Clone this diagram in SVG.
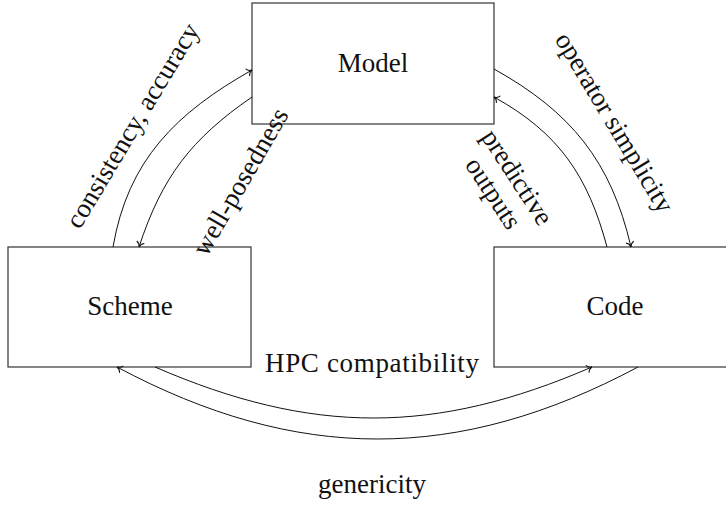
<svg xmlns="http://www.w3.org/2000/svg" width="726" height="505" viewBox="0 0 726 505">
<defs>
<style>
.box{fill:#fff;stroke:#333;stroke-width:1.2}
.t{font-family:"Liberation Serif","Times New Roman",serif;font-size:27px;fill:#111;text-anchor:middle}
.c{fill:none;stroke:#111;stroke-width:1}
</style>
<marker id="ah" viewBox="-6 -5 8 10" markerWidth="8" markerHeight="10" refX="0" refY="0" orient="auto" markerUnits="userSpaceOnUse">
<path d="M-5,-4 C-4,-1.5 -1.5,-0.3 0,0 C-1.5,0.3 -4,1.5 -5,4" fill="none" stroke="#111" stroke-width="1"/>
</marker>
</defs>
<g id="model"><rect class="box" x="252" y="3" width="242" height="121"/><text class="t" x="373" y="72">Model</text></g>
<g id="scheme"><rect class="box" x="8" y="247" width="243" height="120"/><text class="t" x="130" y="315">Scheme</text></g>
<g id="code"><rect class="box" x="494" y="247" width="243" height="120"/><text class="t" x="615" y="315">Code</text></g>
<g id="connectors">
<path class="c" marker-end="url(#ah)" d="M113,247 C128,160 176,113 252,70"/>
<path class="c" marker-end="url(#ah)" d="M252,97 C191,139 162,177 139,247"/>
<path class="c" marker-end="url(#ah)" d="M494,69 C571,112 611,161 631,247"/>
<path class="c" marker-end="url(#ah)" d="M607,247 C588,176 559,133 494,97"/>
<path class="c" marker-end="url(#ah)" d="M155,367 C312,435 435,435 592,367"/>
<path class="c" marker-end="url(#ah)" d="M638,367 C458,463 297,463 117,367"/>
</g>
<g id="labels">
<text class="t" transform="translate(140,130) rotate(-59)">consistency, accuracy</text>
<text class="t" transform="translate(248,186) rotate(-60)">well-posedness</text>
<text class="t" transform="translate(607,127) rotate(59)">operator simplicity</text>
<text class="t" transform="translate(510,182) rotate(57)">predictive</text>
<text class="t" transform="translate(486,198) rotate(57)">outputs</text>
<text class="t" x="372" y="372" textLength="214">HPC compatibility</text>
<text class="t" x="372" y="493">genericity</text>
</g>
</svg>
